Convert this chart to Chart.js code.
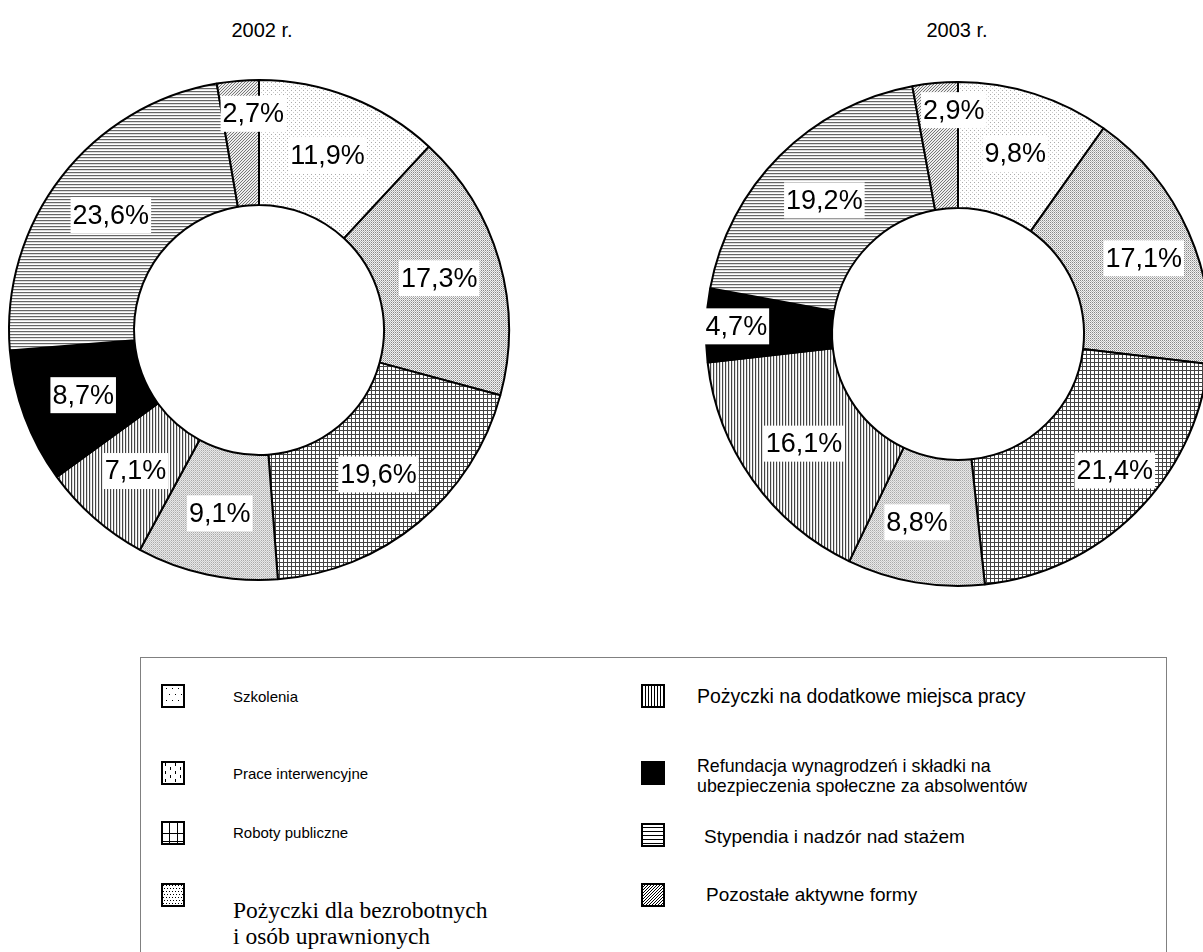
<!DOCTYPE html>
<html>
<head>
<meta charset="utf-8">
<script src="https://cdn.jsdelivr.net/npm/chart.js@4.4.0/dist/chart.umd.min.js"></script>
<style>
  html, body { margin: 0; padding: 0; width: 1203px; height: 952px; overflow: hidden; background: #fff; }
  .title { position: absolute; width: 200px; text-align: center; font-family: "Liberation Sans", Arial, sans-serif; font-size: 20px; color: #000; }
  .pie { position: absolute; }
  #legend { position: absolute; left: 140px; top: 657px; width: 1027px; height: 320px; border: 1px solid #808080; box-sizing: border-box; }
  .item { position: absolute; font-family: "Liberation Sans", Arial, sans-serif; white-space: pre-line; color: #000; }
  .item.serif { font-family: "Liberation Serif", "Times New Roman", serif; }
  .icon { position: absolute; }
</style>
</head>
<body>
<div class="title" id="t0" style="left:162px; top:19px;"></div>
<div class="title" id="t1" style="left:857px; top:19px;"></div>
<canvas class="pie" id="pie0" width="520" height="520" style="left:-1px; top:70px;"></canvas>
<canvas class="pie" id="pie1" width="520" height="520" style="left:698px; top:74px;"></canvas>
<div id="legend"></div>

<script>
// data
var years = ['2002 r.', '2003 r.'];
var categories = [
  'Szkolenia',
  'Prace interwencyjne',
  'Roboty publiczne',
  'Pożyczki dla bezrobotnych\ni osób uprawnionych',
  'Pożyczki na dodatkowe miejsca pracy',
  'Refundacja wynagrodzeń i składki na\nubezpieczenia społeczne za absolwentów',
  'Stypendia i nadzór nad stażem',
  'Pozostałe aktywne formy'
];
var values2002 = [11.9, 17.3, 19.6, 9.1, 7.1, 8.7, 23.6, 2.7];
var values2003 = [9.8, 17.1, 21.4, 8.8, 16.1, 4.7, 19.2, 2.9];

// small tiles used as fills
function tile(w, h, fn) {
  var c = document.createElement('canvas');
  c.width = w; c.height = h;
  var g = c.getContext('2d');
  g.fillStyle = '#fff';
  g.fillRect(0, 0, w, h);
  fn(g, w, h);
  return c;
}
function px(g, x, y, col) { g.fillStyle = col; g.fillRect(x, y, 1, 1); }

var tiles = [
  tile(4, 4, function (g) { px(g, 0, 0, '#aaa'); px(g, 2, 2, '#ccc'); }),
  tile(2, 2, function (g) { g.fillStyle = '#f2f2f2'; g.fillRect(0, 0, 2, 2); px(g, 0, 0, '#888'); px(g, 1, 1, '#bbb'); }),
  tile(4, 4, function (g) { g.fillStyle = '#444'; g.fillRect(0, 0, 4, 1); g.fillRect(0, 0, 1, 4); }),
  tile(2, 2, function (g) { g.fillStyle = '#e8e8e8'; g.fillRect(0, 0, 2, 2); px(g, 0, 0, '#aaa'); px(g, 1, 1, '#c8c8c8'); }),
  tile(3, 1, function (g) { px(g, 0, 0, '#444'); px(g, 1, 0, '#ddd'); }),
  tile(1, 1, function (g) { px(g, 0, 0, '#000'); }),
  tile(1, 3, function (g) { px(g, 0, 0, '#666'); px(g, 0, 1, '#ddd'); }),
  tile(3, 3, function (g) {
    g.fillStyle = '#eee'; g.fillRect(0, 0, 3, 3);
    px(g, 0, 2, '#777'); px(g, 1, 1, '#777'); px(g, 2, 0, '#777');
  })
];

function fmt(v) { return v.toFixed(1).replace('.', ',') + '%'; }

var pctLabels = {
  id: 'pctLabels',
  afterDatasetsDraw: function (chart, args, opts) {
    var ctx = chart.ctx;
    var vals = chart.data.datasets[0].data;
    var shift = opts.shift || {};
    ctx.save();
    ctx.font = '27px "Liberation Sans", Arial, sans-serif';
    ctx.textAlign = 'center';
    ctx.textBaseline = 'middle';
    chart.getDatasetMeta(0).data.forEach(function (arc, i) {
      var p = arc.getProps(['x', 'y', 'startAngle', 'endAngle', 'innerRadius', 'outerRadius']);
      var a = (p.startAngle + p.endAngle) / 2;
      var r = (p.innerRadius + p.outerRadius) / 2;
      var dx = 0, dy = 0;
      // thin slices: label pushed out toward the rim
      if (vals[i] < 5) r = p.outerRadius * 0.88;
      if (vals[i] < 4) dx = 13;
      if (shift[i]) { dx += shift[i][0]; dy += shift[i][1]; }
      var x = p.x + Math.cos(a) * r + dx;
      var y = p.y + Math.sin(a) * r + dy;
      var txt = fmt(vals[i]);
      var w = ctx.measureText(txt).width + 4;
      ctx.fillStyle = '#fff';
      ctx.fillRect(x - w / 2, y - 18, w, 36);
      ctx.fillStyle = '#000';
      ctx.fillText(txt, x, y + 1);
    });
    ctx.restore();
  }
};

function drawPie(id, values, radius, shift) {
  var ctx = document.getElementById(id).getContext('2d');
  var fills = tiles.map(function (t) { return ctx.createPattern(t, 'repeat'); });
  return new Chart(ctx, {
    type: 'doughnut',
    data: {
      labels: categories,
      datasets: [{
        data: values,
        backgroundColor: fills,
        borderColor: '#000',
        borderWidth: 2
      }]
    },
    options: {
      responsive: false,
      animation: false,
      radius: radius,
      cutout: '50%',
      layout: { padding: 0 },
      plugins: {
        legend: { display: false },
        tooltip: { enabled: false },
        pctLabels: { shift: shift }
      }
    },
    plugins: [pctLabels]
  });
}

document.getElementById('t0').textContent = years[0];
document.getElementById('t1').textContent = years[1];
drawPie('pie0', values2002, 250, { 7: [0, 3] });
drawPie('pie1', values2003, 252, { 1: [13, 1], 2: [24, 2], 3: [-9, 2], 7: [3, -3] });

// legend icons, drawn a bit coarser than the slice fills
function drawIcon(g, i, s) {
  g.fillStyle = '#fff';
  g.fillRect(0, 0, s, s);
  g.fillStyle = '#000';
  var x, y;
  if (i === 0) {
    for (y = 4; y < s; y += 6) for (x = (y % 12 === 4 ? 5 : 8); x < s; x += 6) g.fillRect(x, y, 1, 1);
  } else if (i === 1) {
    for (x = 4; x < s; x += 5) for (y = (x % 10 === 4 ? 2 : 6); y < s; y += 8) g.fillRect(x, y, 1, 3);
  } else if (i === 2) {
    g.fillRect(Math.round(s / 3), 0, 1, s); g.fillRect(Math.round(2 * s / 3), 0, 1, s);
    g.fillRect(0, Math.round(s / 2), s, 1); g.fillRect(0, Math.round(5 * s / 6), s, 1);
  } else if (i === 3) {
    for (y = 2; y < s; y += 3) for (x = (y % 6 === 2 ? 2 : 3); x < s; x += 3) g.fillRect(x, y, 1, 1);
  } else if (i === 4) {
    for (x = 4; x < s; x += 3) g.fillRect(x, 0, 1, s);
  } else if (i === 5) {
    g.fillRect(0, 0, s, s);
  } else if (i === 6) {
    for (y = 4; y < s; y += 4) g.fillRect(0, y, s, 1);
  } else {
    g.strokeStyle = '#000'; g.lineWidth = 1;
    for (x = -s; x < s; x += 3) { g.beginPath(); g.moveTo(x, s); g.lineTo(x + s, 0); g.stroke(); }
  }
  g.strokeStyle = '#000';
  g.lineWidth = 2;
  g.strokeRect(1, 1, s - 2, s - 2);
}

// legend layout: [icon left, icon top, text left, text centre y, font px]
var legendSlots = [
  [161, 684, 233, 696, 15],
  [161, 761, 233, 773, 15],
  [161, 821, 233, 832, 15],
  [161, 883, 233, 923, 23.5],
  [641, 684, 697, 696, 19.5],
  [641, 761, 697, 776, 17.8],
  [641, 823, 704, 836, 19],
  [641, 883, 706, 894, 19]
];
var legend = document.body;
categories.forEach(function (name, i) {
  var s = legendSlots[i];
  var c = document.createElement('canvas');
  c.className = 'icon';
  c.width = 24; c.height = 24;
  c.style.left = s[0] + 'px';
  c.style.top = s[1] + 'px';
  drawIcon(c.getContext('2d'), i, 24);
  legend.appendChild(c);
  var t = document.createElement('div');
  var lh = (i === 5) ? 20 : Math.round(s[4] * 1.12);
  var lines = name.split('\n').length;
  t.className = 'item' + (i === 3 ? ' serif' : '');
  t.style.fontSize = s[4] + 'px';
  t.style.lineHeight = lh + 'px';
  t.style.left = s[2] + 'px';
  t.style.top = Math.round(s[3] - lh * lines / 2) + 'px';
  t.textContent = name;
  legend.appendChild(t);
});
</script>
</body>
</html>
